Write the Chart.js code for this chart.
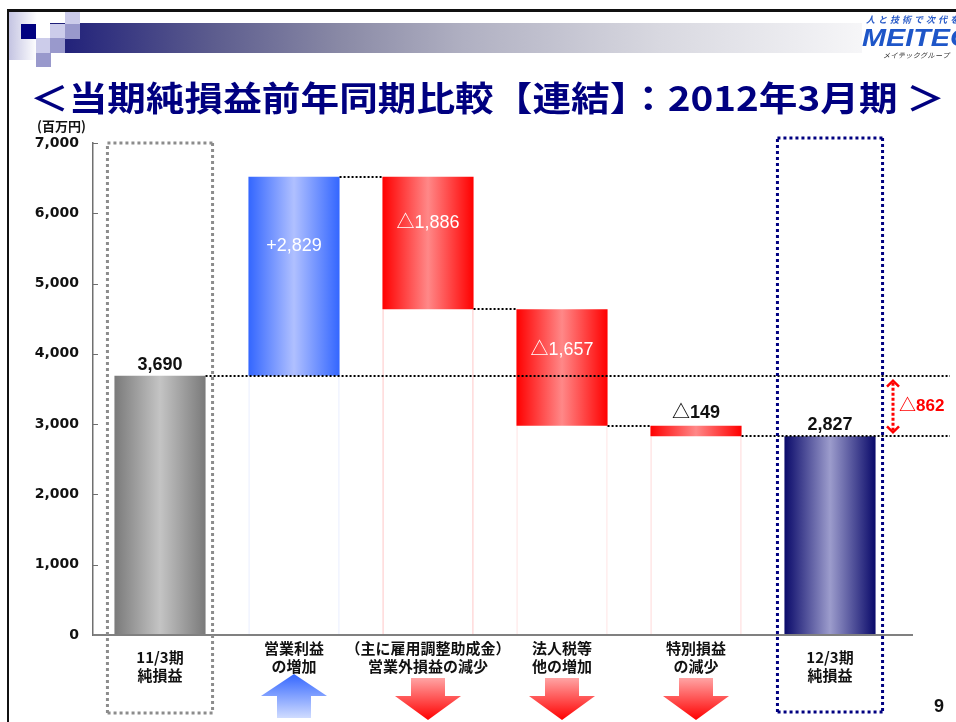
<!DOCTYPE html>
<html>
<head>
<meta charset="utf-8">
<script src="https://cdn.jsdelivr.net/npm/chart.js@4"></script>
<style>
  html, body { margin: 0; padding: 0; background: #fff; }
  #slide { position: relative; width: 956px; height: 722px; overflow: hidden; background: #fff; font-family: "Noto Sans CJK JP", sans-serif; }
  #chartBox { position: absolute; left: 0; top: 0; width: 956px; height: 722px; }
  .blk { position: absolute; }
  #topline { left: 7px; top: 9px; width: 949px; height: 3px; background: #111; }
  #leftline { left: 7px; top: 9px; width: 2px; height: 713px; background: #111; }
  #fade { left: 9px; top: 12px; width: 28px; height: 48px; background: linear-gradient(to right, #c4c4e2, #fff); }
  #band { left: 50px; top: 23px; width: 812px; height: 30px;
    background: linear-gradient(to right, #1c1c78 0%, #5c5c8e 20%, #8a8aa6 36%, #b0b0c2 51%, #d8d8e0 75%, #f6f6f8 100%); }
  .sq { position: absolute; width: 15px; height: 15px; }
  .navy { background: #000080; }
  .light { background: #ccccea; }
  .mid { background: #9999cc; }
  #title { position: absolute; left: 30px; top: 79px; font: bold 34px "Noto Sans CJK JP"; line-height: 36px; color: #000080; white-space: nowrap; transform-origin: 0 0; }
  #unit { position: absolute; left: 37px; top: 116px; font: bold 13px "Noto Sans CJK JP"; color: #111; }
  #slogan { position: absolute; left: 866px; top: 13px; font: italic bold 9px "Noto Sans CJK JP"; color: #2a5cc8; letter-spacing: 3px; white-space: nowrap; }
  #logo { position: absolute; left: 862px; top: 24px; font: italic 900 24px "Liberation Sans", Arial, sans-serif; color: #1e56c8; white-space: nowrap; transform: scaleX(1.2); transform-origin: 0 0; }
  #group { position: absolute; left: 883px; top: 50px; font: italic 7px "Noto Sans CJK JP"; color: #333; white-space: nowrap; letter-spacing: 0.5px; }
  #page { position: absolute; left: 934px; top: 696px; font: bold 18px "Liberation Sans", Arial, sans-serif; color: #111; }
</style>
</head>
<body>
<div id="slide">
  <div id="chartBox"><canvas id="waterfallChart"></canvas></div>
  <div class="blk" id="fade"></div>
  <div class="blk" id="band"></div>
  <div class="sq navy" style="left:21px;top:24px"></div>
  <div class="sq light" style="left:50px;top:24px"></div>
  <div class="sq mid" style="left:65px;top:24px"></div>
  <div class="sq light" style="left:65px;top:12px;height:12px"></div>
  <div class="sq light" style="left:36px;top:38px"></div>
  <div class="sq mid" style="left:50px;top:38px"></div>
  <div class="sq mid" style="left:36px;top:53px;height:14px"></div>
  <div class="blk" id="topline"></div>
  <div class="blk" id="leftline"></div>
  <div id="slogan">人と技術で次代を拓く</div>
  <div id="logo">MEITEC</div>
  <div id="group">メイテックグループ</div>
  <div id="title">＜当期純損益前年同期比較【連結】：2012年3月期 ＞</div>
  <div id="unit">(百万円)</div>
  <div id="page">9</div>
</div>
<script>
// DATA
const categories = [
    ['11/3期', '純損益'],
    ['営業利益', 'の増加'],
    ['（主に雇用調整助成金）', '営業外損益の減少'],
    ['法人税等', '他の増加'],
    ['特別損益', 'の減少'],
    ['12/3期', '純損益'],
];
const startTotal = 3690;
const changes = [2829, -1886, -1657, -149];
const endTotal = 2827;
const yoyChange = -862;
const yTickValues = [0, 1000, 2000, 3000, 4000, 5000, 6000, 7000];

// floating bars: [low, high] for each step of the waterfall
const ranges = [[0, startTotal]];
const baseRanges = [null];
const levels = [startTotal];
let level = startTotal;
changes.forEach(c => {
    const next = level + c;
    ranges.push([Math.min(level, next), Math.max(level, next)]);
    baseRanges.push([0, Math.min(level, next)]);
    levels.push(next);
    level = next;
});
ranges.push([0, endTotal]);
baseRanges.push(null);
levels.push(endTotal);

// STYLE
const barShare = 0.68;
const shades = {
    start: ['#7a7a7a', '#c4c4c4'],
    up: ['#3366ff', '#b0c0ff'],
    down: ['#ff0000', '#ff8888'],
    end: ['#0a0a6a', '#9c9ccc'],
};
const baseEdges = ['rgba(0,0,0,0)', '#e2e8ff', '#ffb4b4', '#ffdada', '#ffcccc', 'rgba(0,0,0,0)'];
const numFont = '"Liberation Sans", "Noto Sans CJK JP", sans-serif';
const jpFont = '"Noto Sans CJK JP", sans-serif';

function kindOf(i) {
    if (i === 0) return 'start';
    if (i === categories.length - 1) return 'end';
    return changes[i - 1] >= 0 ? 'up' : 'down';
}

function fmt(v) {
    return Math.abs(v).toLocaleString('en-US');
}

function dotted(ctx, x1, y1, x2, y2, color, width, dash) {
    ctx.save();
    ctx.strokeStyle = color;
    ctx.lineWidth = width;
    ctx.setLineDash(dash);
    ctx.beginPath();
    ctx.moveTo(x1, y1);
    ctx.lineTo(x2, y2);
    ctx.stroke();
    ctx.restore();
}

function dottedBox(ctx, l, t, r, b, color) {
    dotted(ctx, l, t, r, t, color, 3, [3, 3]);
    dotted(ctx, r, t, r, b, color, 3, [3, 3]);
    dotted(ctx, r, b, l, b, color, 3, [3, 3]);
    dotted(ctx, l, b, l, t, color, 3, [3, 3]);
}

function blockArrow(ctx, cx, up) {
    const headW = 33, shaftW = 17;
    const top = up ? 674 : 678, neck = 696, end = up ? 718 : 720;
    const g = ctx.createLinearGradient(0, top, 0, end);
    if (up) {
        g.addColorStop(0, '#3366ff');
        g.addColorStop(1, '#d0dcff');
    } else {
        g.addColorStop(0, '#ffa4a4');
        g.addColorStop(1, '#ff0000');
    }
    ctx.save();
    ctx.fillStyle = g;
    ctx.beginPath();
    if (up) {
        ctx.moveTo(cx, top);
        ctx.lineTo(cx + headW, neck);
        ctx.lineTo(cx + shaftW, neck);
        ctx.lineTo(cx + shaftW, end);
        ctx.lineTo(cx - shaftW, end);
        ctx.lineTo(cx - shaftW, neck);
        ctx.lineTo(cx - headW, neck);
    } else {
        ctx.moveTo(cx - shaftW, top);
        ctx.lineTo(cx + shaftW, top);
        ctx.lineTo(cx + shaftW, neck);
        ctx.lineTo(cx + headW, neck);
        ctx.lineTo(cx, end);
        ctx.lineTo(cx - headW, neck);
        ctx.lineTo(cx - shaftW, neck);
    }
    ctx.closePath();
    ctx.fill();
    ctx.restore();
}

const waterfallDecor = {
    id: 'waterfallDecor',

    afterDatasetsDraw(chart) {
        const { ctx, chartArea: { left, right, top, bottom }, scales: { y } } = chart;
        const bars = chart.getDatasetMeta(0).data;
        const far = chart.width - 6;

        // y tick marks pointing into the plot
        ctx.save();
        ctx.strokeStyle = '#707070';
        ctx.lineWidth = 1;
        yTickValues.forEach(v => {
            const py = Math.round(y.getPixelForValue(v)) + 0.5;
            ctx.beginPath();
            ctx.moveTo(left, py);
            ctx.lineTo(left + 5, py);
            ctx.stroke();
        });
        ctx.restore();

        // x axis line
        ctx.save();
        ctx.strokeStyle = '#808080';
        ctx.lineWidth = 2;
        ctx.beginPath();
        ctx.moveTo(left, bottom);
        ctx.lineTo(right + 16, bottom);
        ctx.stroke();
        ctx.restore();

        // dotted connectors between bars
        for (let i = 0; i < bars.length - 1; i++) {
            const py = Math.round(y.getPixelForValue(levels[i]));
            const x1 = bars[i].x + bars[i].width / 2;
            const x2 = (i === 0 || i === bars.length - 2) ? far : bars[i + 1].x - bars[i + 1].width / 2;
            dotted(ctx, x1, py, x2, py, '#000', 2, [2, 2]);
        }

        // value labels
        ctx.save();
        ctx.textAlign = 'center';
        ctx.textBaseline = 'middle';
        bars.forEach((bar, i) => {
            const kind = kindOf(i);
            const yTop = Math.min(bar.y, bar.base);
            const h = Math.abs(bar.base - bar.y);
            if (kind === 'start' || kind === 'end') {
                ctx.font = 'bold 18px ' + numFont;
                ctx.fillStyle = '#111';
                ctx.fillText(fmt(levels[i]), bar.x, yTop - 11);
            } else {
                const c = changes[i - 1];
                const text = (c >= 0 ? '+' : '△') + fmt(c);
                if (h > 40) {
                    ctx.font = '18px ' + numFont;
                    ctx.fillStyle = '#fff';
                    ctx.fillText(text, bar.x, yTop + h * 0.35);
                } else {
                    ctx.font = 'bold 18px ' + numFont;
                    ctx.fillStyle = '#111';
                    ctx.fillText(text, bar.x, yTop - 13);
                }
            }
        });
        ctx.restore();

        // category labels and arrows under the axis
        ctx.save();
        ctx.textAlign = 'center';
        ctx.textBaseline = 'middle';
        ctx.font = 'bold 15px ' + jpFont;
        ctx.fillStyle = '#111';
        bars.forEach((bar, i) => {
            const kind = kindOf(i);
            const y1 = (kind === 'start' || kind === 'end') ? 657 : 648;
            categories[i].forEach((line, k) => ctx.fillText(line, bar.x, y1 + k * 18));
            if (kind === 'up' || kind === 'down') blockArrow(ctx, bar.x, kind === 'up');
        });
        ctx.restore();

        // dotted frames around the two totals
        const b0 = bars[0], bN = bars[bars.length - 1];
        dottedBox(ctx, b0.x - b0.width / 2 - 7, top, b0.x + b0.width / 2 + 7, 713, '#8c8c8c');
        dottedBox(ctx, bN.x - bN.width / 2 - 7, top - 5, bN.x + bN.width / 2 + 7, 712, '#000080');

        // year-on-year difference marker
        const ax = right - 4;
        const yA = y.getPixelForValue(startTotal) + 5;
        const yB = y.getPixelForValue(endTotal) - 4;
        dotted(ctx, ax, yA + 2, ax, yB - 2, '#ff0000', 3, [3, 2]);
        ctx.save();
        ctx.strokeStyle = '#ff0000';
        ctx.lineWidth = 2.5;
        ctx.beginPath();
        ctx.moveTo(ax - 6, yA + 6); ctx.lineTo(ax, yA); ctx.lineTo(ax + 6, yA + 6);
        ctx.moveTo(ax - 6, yB - 6); ctx.lineTo(ax, yB); ctx.lineTo(ax + 6, yB - 6);
        ctx.stroke();
        ctx.font = 'bold 17px ' + numFont;
        ctx.fillStyle = '#ff0000';
        ctx.textBaseline = 'middle';
        ctx.fillText('△' + fmt(yoyChange), ax + 6, (yA + yB) / 2);
        ctx.restore();
    }
};

const data = {
    labels: categories,
    datasets: [
        {
            label: '純損益',
            data: ranges,
            order: 1,
            grouped: false,
            barPercentage: barShare,
            categoryPercentage: 1,
            borderWidth: 0,
            backgroundColor(c) {
                const shade = shades[kindOf(c.dataIndex)];
                const chart = c.chart;
                if (!chart.chartArea || !chart.scales.x) return shade[0];
                const cx = chart.scales.x.getPixelForValue(c.dataIndex);
                const half = chart.scales.x.width / categories.length * barShare / 2;
                const g = chart.ctx.createLinearGradient(cx - half, 0, cx + half, 0);
                g.addColorStop(0, shade[0]);
                g.addColorStop(0.5, shade[1]);
                g.addColorStop(1, shade[0]);
                return g;
            },
        },
        {
            label: 'base',
            data: baseRanges,
            order: 2,
            grouped: false,
            barPercentage: barShare,
            categoryPercentage: 1,
            backgroundColor: 'rgba(0,0,0,0)',
            borderColor: baseEdges,
            borderWidth: { left: 1, right: 1, top: 0, bottom: 0 },
            borderSkipped: false,
        },
    ],
};

const config = {
    type: 'bar',
    data: data,
    plugins: [waterfallDecor],
    options: {
        responsive: true,
        maintainAspectRatio: false,
        animation: false,
        layout: { padding: { left: 0, right: 59, top: 143, bottom: 87 } },
        plugins: {
            legend: { display: false },
            tooltip: { enabled: false },
        },
        scales: {
            x: { display: false },
            y: {
                min: 0,
                max: 7000,
                afterBuildTicks(scale) { scale.ticks = yTickValues.map(v => ({ value: v })); },
                afterFit(scale) { scale.width = 93; },
                ticks: {
                    color: '#111',
                    padding: 14,
                    font: { family: 'DejaVu Sans', size: 14, weight: 'bold' },
                    callback: v => v.toLocaleString('en-US'),
                },
                grid: { display: false, drawTicks: false },
                border: { display: true, color: '#707070', width: 1.5 },
            },
        },
    },
};

const waterfallChart = new Chart(document.getElementById('waterfallChart'), config);

// stretch the title to the slide width like the original
const title = document.getElementById('title');
title.style.transform = 'scaleX(' + (915 / title.getBoundingClientRect().width) + ')';
</script>
</body>
</html>
